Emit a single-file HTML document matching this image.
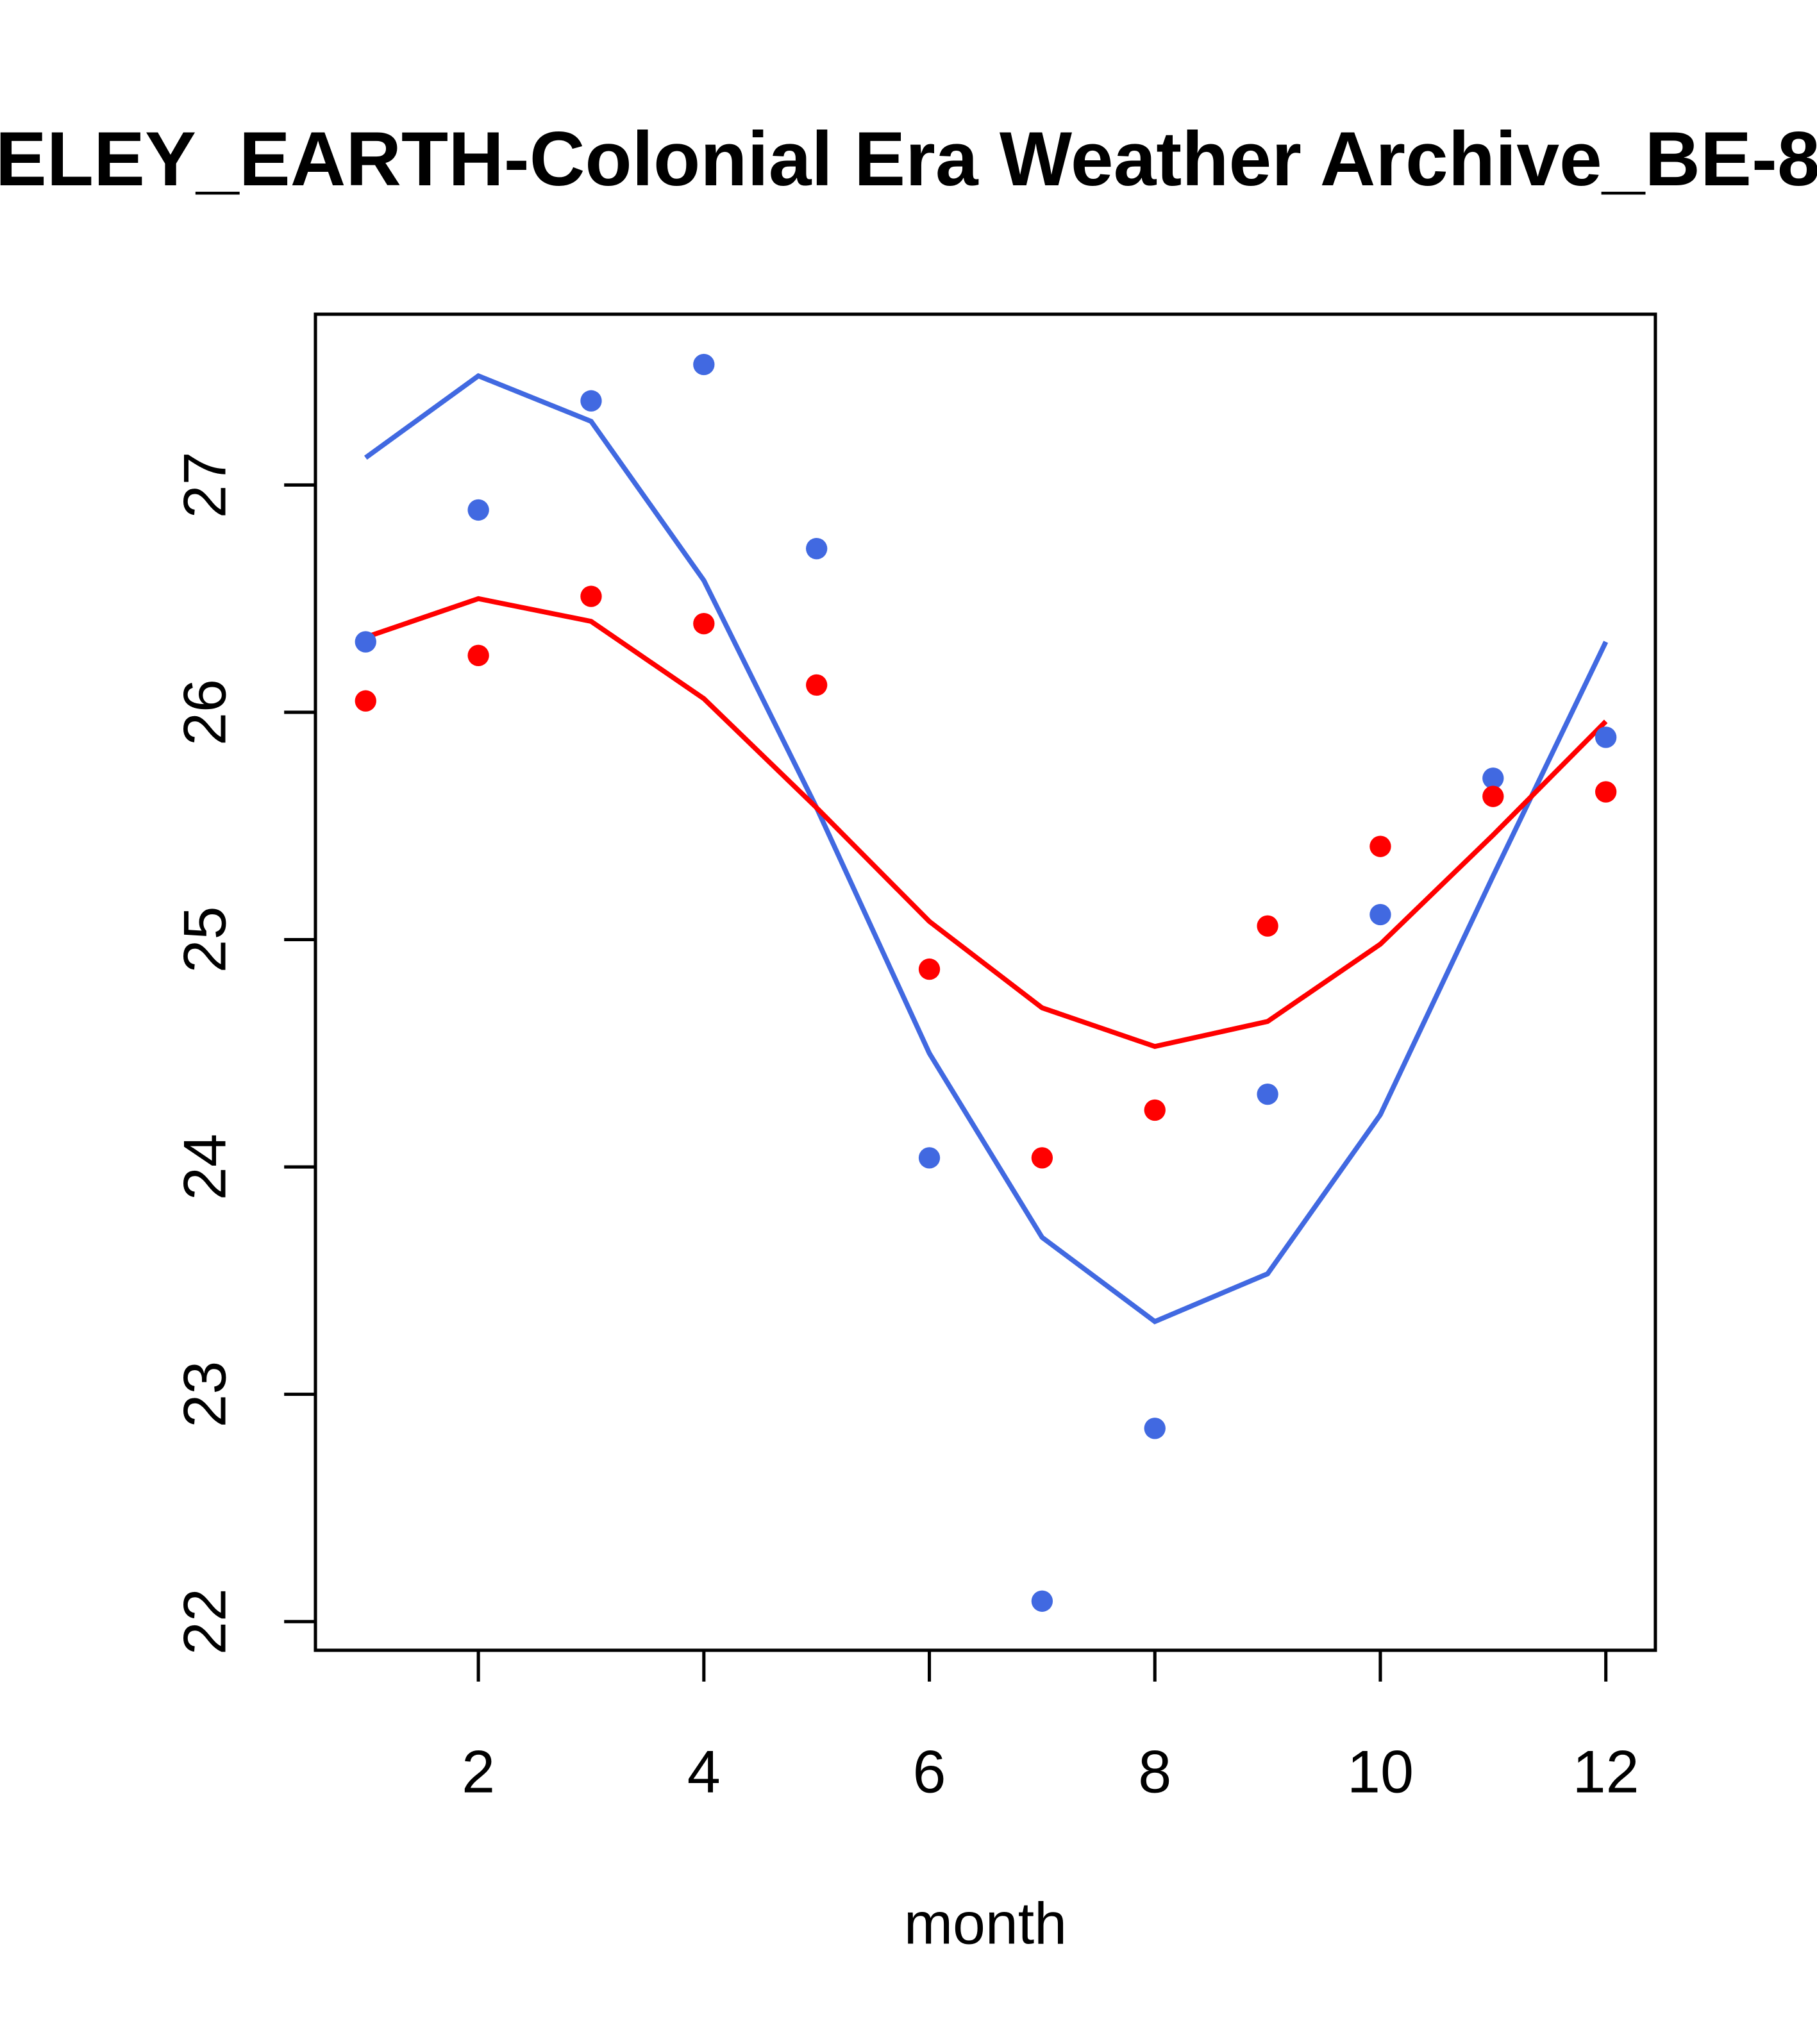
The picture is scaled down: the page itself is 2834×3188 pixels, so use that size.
<!DOCTYPE html>
<html><head><meta charset="utf-8"><style>html,body{margin:0;padding:0;background:#fff}svg{display:block}</style></head>
<body>
<svg id="chart" width="2834" height="3188" viewBox="0 0 1394 1568" xmlns="http://www.w3.org/2000/svg" font-family="'Liberation Sans', sans-serif">
<text x="662" y="142" text-anchor="middle" font-size="59" font-weight="bold">BERKELEY_EARTH-Colonial Era Weather Archive_BE-8793</text>
<rect x="242" y="241" width="1028" height="1025" fill="none" stroke="#000" stroke-width="2.5"/>
<g id="axes"></g>
<g id="marks"></g>
<text x="756" y="1491" text-anchor="middle" font-size="45">month</text>
</svg>
<script>
const months=[1,2,3,4,5,6,7,8,9,10,11,12];
const bluePoints=[26.31,26.89,27.37,27.53,26.72,24.04,22.09,22.85,24.32,25.11,25.71,25.89];
const redPoints=[26.05,26.25,26.51,26.39,26.12,24.87,24.04,24.25,25.06,25.41,25.63,25.65];
const blueLine=[27.12,27.48,27.28,26.58,25.58,24.50,23.69,23.32,23.53,24.23,25.28,26.31];
const redLine=[26.33,26.50,26.40,26.06,25.58,25.08,24.70,24.53,24.64,24.98,25.46,25.96];
const xTicks=[2,4,6,8,10,12];
const yTicks=[22,23,24,25,26,27];
const NS='http://www.w3.org/2000/svg';
function xs(m){return 367+(m-2)*86.5;}
function ys(v){return 372+(27-v)*174.4;}
const axes=document.getElementById('axes'),marks=document.getElementById('marks');
function mk(t,a,p){const e=document.createElementNS(NS,t);for(const k in a)e.setAttribute(k,a[k]);p.appendChild(e);return e;}
xTicks.forEach(t=>{
  const l=mk('line',{x1:xs(t),x2:xs(t),y1:1266,y2:1290,stroke:'#000','stroke-width':2.5},axes);
  
  
  const tx=mk('text',{x:xs(t),y:1375,'text-anchor':'middle','font-size':46},axes);tx.textContent=t;
  
  
});
yTicks.forEach(t=>{
  const l=mk('line',{x1:218,x2:242,y1:ys(t),y2:ys(t),stroke:'#000','stroke-width':2.5},axes);
  
  
  const tx=mk('text',{x:0,y:0,'text-anchor':'middle','font-size':46,transform:`translate(173,${ys(t)}) rotate(-90)`},axes);tx.textContent=t;
  
  
});
function line(vals,color,name){
  const p=mk('polyline',{points:vals.map((v,i)=>xs(months[i])+','+ys(v)).join(' '),fill:'none',stroke:color,'stroke-width':3.8},marks);
  
  
}
function pts(vals,color,name){
  vals.forEach((v,i)=>{
    const c=mk('circle',{cx:xs(months[i]),cy:ys(v),r:8.2,fill:color},marks);
    
    
  });
}
line(blueLine,'#4169e1','blue-trend-line');
line(redLine,'#ff0000','red-trend-line');
pts(bluePoints,'#4169e1','blue-point');
pts(redPoints,'#ff0000','red-point');
</script>
</body></html>
